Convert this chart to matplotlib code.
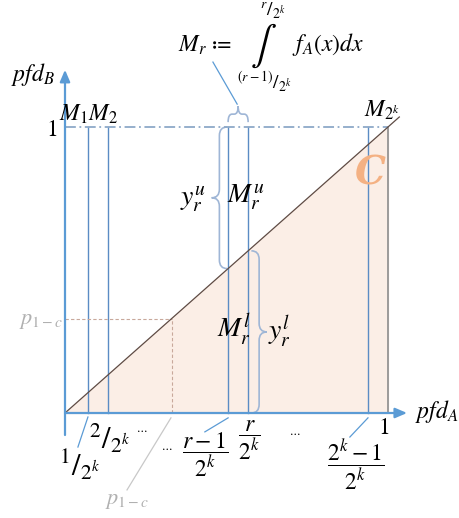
import numpy as np
import matplotlib
matplotlib.use("Agg")
from matplotlib import pyplot as plt
from matplotlib.path import Path
from matplotlib.patches import PathPatch

plt.rcParams['mathtext.fontset'] = 'stix'
plt.rcParams['font.family'] = ['DejaVu Serif']

# strip boundaries on pfd_A (the vertical lines M_1, M_2, ..., M_r, ..., M_2^k)
strip_edges = [0.071, 0.133, 0.505, 0.567, 0.938]
r_lo, r_hi = 0.505, 0.567      # strip of M_r
p_1c = 0.33                    # p_{1-c}
diag_end = 1.035               # diagonal runs a little past (1, 1)

BLUE = '#5b8cc4'
AXIS = '#5b9bd5'
BRACE = '#9fb6d6'
GREY = '#b0b0b0'
FILL = '#fbeee6'
ORANGE = '#f4b183'


def brace(ax, a, b, base, depth, q, vertical=True, **kw):
    """curly brace from a to b along one axis, base at `base`, tip at base+depth"""
    s = depth / 2
    m = (a + b) / 2
    pts = [(base, a), (base + s, a), (base + s, a + q), (base + s, m - q),
           (base + s, m), (base + depth, m), (base + s, m), (base + s, m + q),
           (base + s, b - q), (base + s, b), (base, b)]
    codes = [Path.MOVETO, Path.CURVE3, Path.CURVE3, Path.LINETO,
             Path.CURVE3, Path.CURVE3, Path.CURVE3, Path.CURVE3,
             Path.LINETO, Path.CURVE3, Path.CURVE3]
    if not vertical:
        pts = [(y, x) for x, y in pts]
    ax.add_patch(PathPatch(Path(pts, codes), fill=False, **kw))


fig = plt.figure(figsize=(4.6, 5.18), dpi=100)
ax = fig.add_axes([0, 0, 1, 1])
ax.set_xlim(-65 / 323, 395 / 323)
ax.set_ylim(-105 / 286, 413 / 286)
ax.axis('off')

# shaded region C under the diagonal
ax.fill([0, 1, 1], [0, 0, 1], color=FILL, zorder=0)
ax.plot([0, diag_end], [0, diag_end], color='#5e4b44', lw=0.9, zorder=3)

# strips
for x in strip_edges:
    ax.plot([x, x], [0, 1], color=BLUE, lw=1.0, zorder=2)
ax.plot([1, 1], [0, 1], color='#8c8c8c', lw=1.2, zorder=2)
ax.plot([0, 1], [1, 1], color='#8ea9c8', lw=1.3, ls=(0, (6, 2, 1, 2)), zorder=2)

# p_{1-c} guides
ax.plot([0, p_1c], [p_1c, p_1c], color='#c8a89b', lw=0.8, ls=(0, (3, 2)))
ax.plot([p_1c, p_1c], [0, p_1c], color='#c8a89b', lw=0.8, ls=(0, (3, 2)))

# axes with arrows
ax.annotate('', xy=(0, 1.2), xytext=(0, -0.077),
            arrowprops=dict(arrowstyle='-|>,head_length=0.7,head_width=0.3',
                            color=AXIS, lw=1.6, shrinkA=0, shrinkB=0))
ax.annotate('', xy=(1.059, 0), xytext=(0, 0),
            arrowprops=dict(arrowstyle='-|>,head_length=0.7,head_width=0.3',
                            color=AXIS, lw=1.6, shrinkA=0, shrinkB=0))

# braces
brace(ax, r_lo, 1.0, r_lo - 0.003, -0.048, 0.03, color=BRACE, lw=1.2)
brace(ax, 0.0, r_hi, r_hi + 0.01, 0.048, 0.03, color=BRACE, lw=1.2)
brace(ax, r_lo, r_hi, 1.017, 0.056, 0.012, vertical=False, color=BRACE, lw=1.2)

# leader lines
ax.plot([0.533, 0.458], [1.08, 1.227], color=AXIS, lw=0.9)
ax.plot([0.071, 0.040], [-0.014, -0.119], color=AXIS, lw=0.9)
ax.plot([0.328, 0.192], [-0.017, -0.269], color='#c8c8c8', lw=0.9)
ax.plot([0.505, 0.433], [-0.017, -0.066], color=AXIS, lw=0.9)
ax.plot([0.938, 0.882], [-0.017, -0.084], color=AXIS, lw=0.9)

kw = dict(ha='center', va='center', color='black')

# definition of M_r
ax.text(0.433, 1.287, r'$M_r\ ≔$', fontsize=17, **kw)
ax.text(0.613, 1.283, r'$\int$', fontsize=28, **kw)
ax.text(0.642, 1.405, r'${}^{r}/{}_{2^k}$', fontsize=14, **kw)
ax.text(0.616, 1.160, r'${}^{(r-1)}/{}_{2^k}$', fontsize=14, **kw)
ax.text(0.814, 1.287, r'$f_A(x)dx$', fontsize=17, **kw)

# axis labels
ax.text(-0.099, 1.182, r'$pfd_B$', fontsize=17, **kw)
ax.text(1.152, 0.004, r'$pfd_A$', fontsize=17, **kw)
ax.text(-0.04, 0.99, r'$1$', fontsize=17, **kw)
ax.text(-0.074, 0.325, r'$p_{1-c}$', fontsize=16,
        ha='center', va='center', color=GREY)
ax.text(0.192, -0.304, r'$p_{1-c}$', fontsize=16,
        ha='center', va='center', color=GREY)

# strip labels
ax.text(0.074, 1.044, r'$M_1M_2$', fontsize=17, **kw)
ax.text(0.981, 1.059, r'$M_{2^k}$', fontsize=17, **kw)
ax.text(0.396, 0.745, r'$y_r^u$', fontsize=20, **kw)
ax.text(0.560, 0.752, r'$M_r^u$', fontsize=20, **kw)
ax.text(0.523, 0.290, r'$M_r^l$', fontsize=20, **kw)
ax.text(0.663, 0.283, r'$y_r^l$', fontsize=20, **kw)
ax.text(0.944, 0.836, 'C', fontsize=28, fontweight='bold', fontstyle='italic',
        ha='center', va='center', color=ORANGE)

# tick labels
ax.text(0.046, -0.182, r'${}^{1}/{}_{2^k}$', fontsize=22, **kw)
ax.text(0.140, -0.091, r'${}^{2}/{}_{2^k}$', fontsize=22, **kw)
ax.text(0.238, -0.056, '...', fontsize=8, **kw)
ax.text(0.316, -0.119, '...', fontsize=8, **kw)
ax.text(0.433, -0.147, r'$\dfrac{r-1}{2^k}$', fontsize=17, **kw)
ax.text(0.570, -0.094, r'$\dfrac{r}{2^k}$', fontsize=17, **kw)
ax.text(0.712, -0.066, '...', fontsize=8, **kw)
ax.text(0.985, -0.049, r'$1$', fontsize=17, **kw)
ax.text(0.901, -0.182, r'$\dfrac{2^k-1}{2^k}$', fontsize=17, **kw)

fig.savefig('out.png', dpi=100)
